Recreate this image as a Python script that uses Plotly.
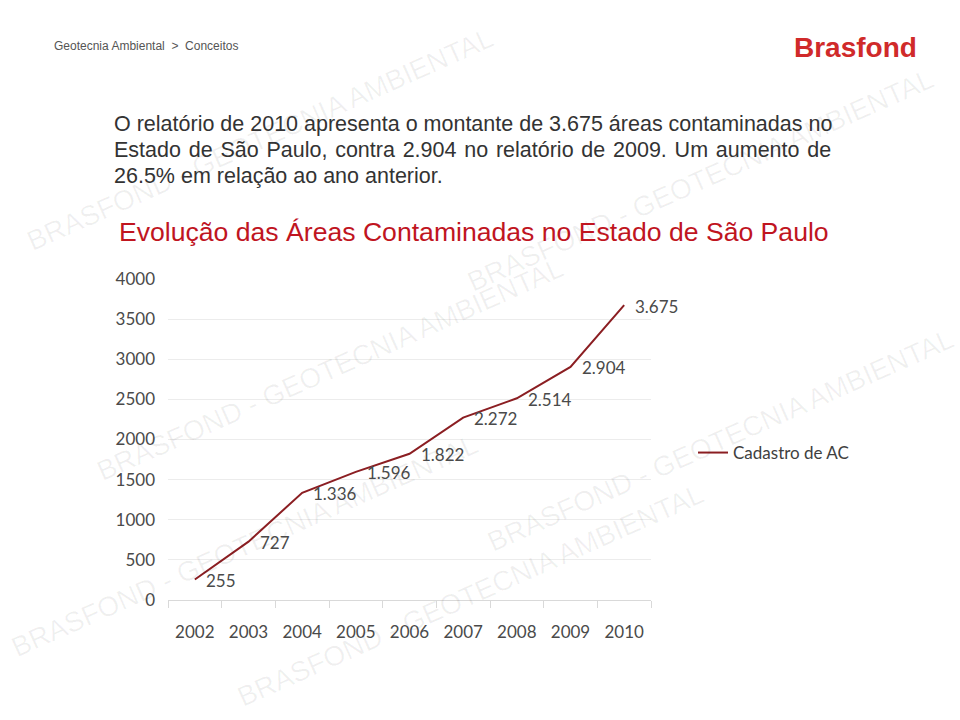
import plotly.graph_objects as go

years = ["2002", "2003", "2004", "2005", "2006", "2007", "2008", "2009", "2010"]
areas = [255, 727, 1336, 1596, 1822, 2272, 2514, 2904, 3675]
area_labels = ["255", "727", "1.336", "1.596", "1.822", "2.272", "2.514", "2.904", "3.675"]
y_ticks = [0, 500, 1000, 1500, 2000, 2500, 3000, 3500, 4000]
series_name = "Cadastro de AC"

paragraph = [
    "O relatório de 2010 apresenta o montante de 3.675 áreas contaminadas no",
    "Estado de São Paulo, contra 2.904 no relatório de 2009. Um aumento de",
    "26.5% em relação ao ano anterior.",
]
title_text = "Evolução das Áreas Contaminadas no Estado de São Paulo"
breadcrumb = "Geotecnia Ambiental  >  Conceitos"
logo = "Brasfond"
watermark = "BRASFOND - GEOTECNIA AMBIENTAL"

W, H = 960, 720
fig = go.Figure()

fig.add_trace(go.Scatter(
    x=years, y=areas, name=series_name,
    mode="lines",
    line=dict(color="#8B1E22", width=2),
    cliponaxis=False,
))

annotations = []
# watermarks (decorative, faint)
wm_centers = [(260, 140), (700, 180), (330, 370), (720, 440), (470, 595), (245, 545)]
for (cx, cy) in wm_centers:
    annotations.append(dict(
        text=watermark, x=cx / W, y=1 - cy / H, xref="paper", yref="paper",
        showarrow=False, textangle=-24,
        font=dict(family="Liberation Sans, Arial, sans-serif", size=28, color="rgba(0,0,0,0.06)"),
        xanchor="center", yanchor="middle",
    ))

# data labels, positioned from data values (category index on x)
for i, (v, lab) in enumerate(zip(areas, area_labels)):
    annotations.append(dict(
        text=lab, x=i, y=v, xref="x", yref="y", showarrow=False,
        xanchor="left", yanchor="middle", xshift=9, yshift=-1,
        font=dict(family="Lato, Open Sans, sans-serif", size=17, color="#4a4a4a"),
    ))

annotations.append(dict(
    text=breadcrumb, x=52 / W, y=1 - 46 / H, xref="paper", yref="paper",
    showarrow=False, xanchor="left", yanchor="middle",
    font=dict(family="Liberation Sans, Arial, sans-serif", size=12, color="#555555"),
))
annotations.append(dict(
    text="<b>" + logo + "</b>", x=919 / W, y=1 - 48 / H, xref="paper", yref="paper",
    showarrow=False, xanchor="right", yanchor="middle",
    font=dict(family="Liberation Sans Narrow, Arial Narrow, Liberation Sans, sans-serif", size=28, color="#D02A2A"),
))
para_font = dict(family="Liberation Sans, Arial, sans-serif", size=21.5, color="#333333")
for i, line in enumerate(paragraph):
    txt = line.replace(" ", " \u200a") if i == 1 else line
    annotations.append(dict(text=txt, x=112 / W, y=1 - (124 + 26 * i) / H, xref="paper", yref="paper",
                            showarrow=False, xanchor="left", yanchor="middle", font=para_font))
annotations.append(dict(
    text=title_text, x=117 / W, y=1 - 232 / H, xref="paper", yref="paper",
    showarrow=False, xanchor="left", yanchor="middle",
    font=dict(family="Liberation Sans, Arial, sans-serif", size=26.6, color="#C0151F"),
))

fig.update_layout(
    width=W, height=H,
    margin=dict(l=0, r=0, t=0, b=0, autoexpand=False),
    paper_bgcolor="white", plot_bgcolor="white",
    annotations=annotations,
    showlegend=True,
    legend=dict(
        x=693 / W, y=1 - 453 / H, xanchor="left", yanchor="middle",
        bgcolor="rgba(0,0,0,0)",
        font=dict(family="Lato, Open Sans, sans-serif", size=17, color="#404040"),
    ),
    xaxis=dict(
        domain=[168 / W, 651 / W],
        type="category",
        range=[-0.5, 8.5],
        automargin=False,
        showgrid=False,
        showline=True, linecolor="#d9d9d9", linewidth=1,
        ticks="outside", tickson="boundaries", ticklen=7, tickcolor="#d9d9d9",
        ticklabelstandoff=17,
        tickfont=dict(family="Lato, Open Sans, sans-serif", size=17, color="#4a4a4a"),
        zeroline=False, fixedrange=True,
    ),
    yaxis=dict(
        domain=[1 - 600 / H, 1 - 279 / H],
        range=[0, 4000],
        automargin=False,
        tickvals=y_ticks,
        ticktext=[str(v) for v in y_ticks],
        showgrid=True, gridcolor="#ececec", gridwidth=1,
        showline=False, zeroline=False,
        ticks="", ticklabelstandoff=12,
        tickfont=dict(family="Lato, Open Sans, sans-serif", size=17, color="#4a4a4a"),
        fixedrange=True,
    ),
)

fig.write_html("out.html")
